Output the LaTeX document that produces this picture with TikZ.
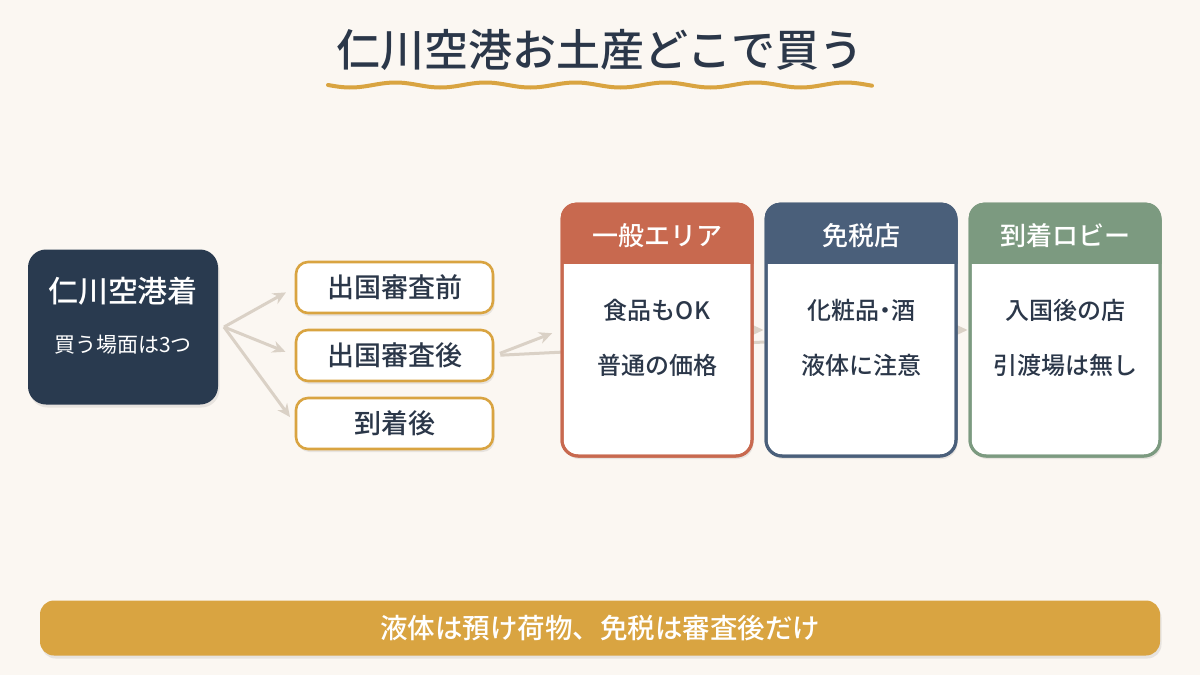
\documentclass[tikz,border=0pt]{standalone}
\usepackage{fontspec}
\setmainfont{Noto Sans CJK JP}
\newfontfamily\medfont{Noto Sans CJK JP}[UprightFont=* Medium]
\usetikzlibrary{arrows.meta,calc}
\definecolor{bg}{HTML}{FBF7F2}
\definecolor{ink}{HTML}{2B3749}
\definecolor{navy}{HTML}{293A4F}
\definecolor{gold}{HTML}{D9A441}
\definecolor{arrowc}{HTML}{DAD1C6}
\definecolor{orangec}{HTML}{C8694F}
\definecolor{slatec}{HTML}{4A5F7A}
\definecolor{greenc}{HTML}{7C9A80}
\pgfdeclarelayer{bglayer}
\pgfdeclarelayer{back}
\pgfsetlayers{bglayer,back,main}
\tikzset{
  shadowed/.style={preaction={fill=black, opacity=0.08, transform canvas={xshift=1.5pt,yshift=-3pt}}},
  midbox/.style={shadowed, draw=gold, line width=2.6pt, fill=white, rounded corners=12pt,
    minimum width=197pt, minimum height=51pt, text=ink, font=\fontsize{27}{30}\selectfont\medfont},
  card/.style={shadowed, draw=#1, line width=3pt, fill=white, rounded corners=16pt,
    minimum width=190pt, minimum height=252pt},
  hdr/.style={text=white, font=\fontsize{26}{30}\selectfont\medfont},
  bodytxt/.style={text=ink, font=\fontsize{24}{28}\selectfont\medfont},
  link/.style={draw=arrowc, line width=3pt, -{Stealth[length=13pt,width=12pt]}},
}
\newcommand{\cardhead}[2]{%
  \begin{scope}
    \clip[rounded corners=16pt] (#1.north west) rectangle (#1.south east);
    \fill[#2] (#1.north west) rectangle ($(#1.north east)+(0,61)$);
  \end{scope}
  \draw[#2, line width=3pt, rounded corners=16pt] ($(#1.north west)+(1.5,1.5)$) rectangle ($(#1.south east)+(-1.5,-1.5)$);
}
\begin{document}
\begin{tikzpicture}[x=1pt,y=-1pt]
\begin{pgfonlayer}{bglayer}
  \fill[bg] (0,0) rectangle (1200,675);
\end{pgfonlayer}
\useasboundingbox (0,0) rectangle (1200,675);

% title
\node[text=ink, font=\fontsize{44}{50}\selectfont\medfont] (title) at (600,50) {仁川空港お土産どこで買う};
\draw[gold, line width=4pt, line cap=round] plot[domain=328:872, samples=200, smooth] (\x, {85+2.5*sin((\x-328)*4)});

% start box
\node[shadowed, fill=navy, rounded corners=18pt, minimum width=190pt, minimum height=155pt] (start) at (123,327) {};
\node[text=white, font=\fontsize{30}{34}\selectfont\medfont] (st1) at (123,291) {仁川空港着};
\node[text=white, font=\fontsize{21}{26}\selectfont] (st2) at (123,345) {買う場面は3つ};

% middle boxes
\node[midbox] (b1) at (394.5,287.5) {出国審査前};
\node[midbox] (b2) at (394.5,355.5) {出国審査後};
\node[midbox] (b3) at (394.5,423.5) {到着後};

% cards
\node[card=orangec] (ga) at (657,330) {};
\cardhead{ga}{orangec}
\node[hdr] (gah) at (657,236) {一般エリア};
\node[bodytxt] (ga1) at (657,310) {食品もOK};
\node[bodytxt] (ga2) at (657,365) {普通の価格};

\node[card=slatec] (mf) at (861,330) {};
\cardhead{mf}{slatec}
\node[hdr] (mfh) at (861,236) {免税店};
\node[bodytxt] (mf1) at (861,310) {化粧品{\addfontfeature{RawFeature=+palt}・}酒};
\node[bodytxt] (mf2) at (861,365) {液体に注意};

\node[card=greenc] (ta) at (1065,330) {};
\cardhead{ta}{greenc}
\node[hdr] (tah) at (1065,236) {到着ロビー};
\node[bodytxt] (ta1) at (1065,310) {入国後の店};
\node[bodytxt] (ta2) at (1065,365) {引渡場は無し};

% bottom bar
\node[shadowed, fill=gold, rounded corners=14pt, minimum width=1120pt, minimum height=55pt,
  text=white, font=\fontsize{27.5}{30}\selectfont\medfont] (note) at (600,628) {液体は預け荷物、免税は審査後だけ};

% connectors
\coordinate (fork) at (224,327);
\begin{pgfonlayer}{back}
  \draw[link, shorten >=10pt] (fork) -- (b1.west);
  \draw[link, shorten >=10pt] (fork) -- (b2.west);
  \draw[link, shorten >=8pt] (fork) -- (b3.west);
  \draw[link, shorten <=6pt, shorten >=9pt] (b2.east) -- (ga.west);
  \draw[draw=arrowc, line width=3pt, shorten <=6pt] (b2.east) -- ($(mf.west)+(0,12)$);
  \draw[link, shorten >=1pt] (ga.east) -- (mf.west);
  \draw[link, shorten >=1pt] (mf.east) -- (ta.west);
\end{pgfonlayer}
\end{tikzpicture}
\end{document}
